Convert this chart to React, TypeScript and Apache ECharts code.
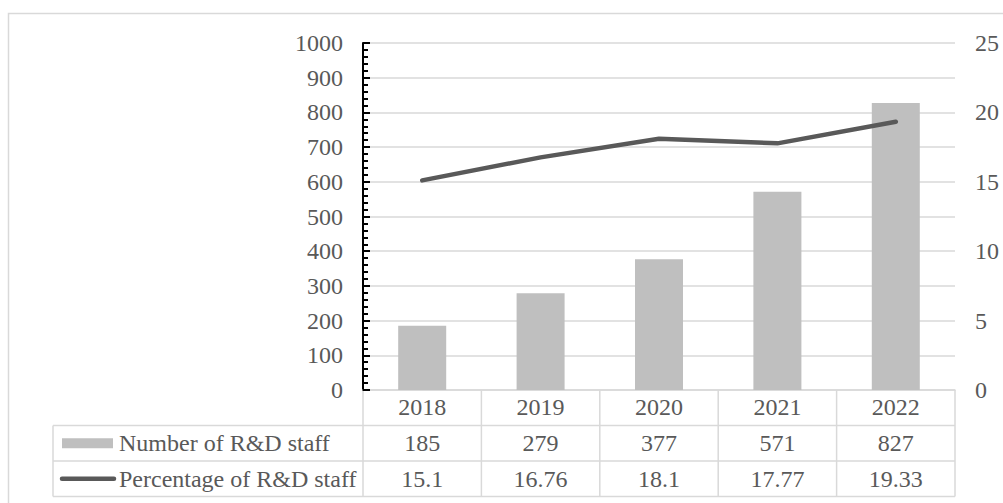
import React, { useEffect, useRef } from "react";
import * as echarts from "echarts";

const categories = ["2018", "2019", "2020", "2021", "2022"];
const staffCount = [185, 279, 377, 571, 827];
const staffPct = [15.1, 16.76, 18.1, 17.77, 19.33];
const seriesNames = ["Number of R&D staff", "Percentage of R&D staff"];

const FONT = "Liberation Serif";
const FS = 24;
const TXT = "#595959";
const GRID = "#d9d9d9";

export default function App() {
  const ref = useRef<HTMLDivElement>(null);
  useEffect(() => {
    const chart = echarts.init(ref.current!, null, { renderer: "svg" });
    const option: any = {
      animation: false,
      backgroundColor: "#ffffff",
      textStyle: { fontFamily: FONT },
      grid: { left: 363, right: 48, top: 43, bottom: 113, containLabel: false },
      xAxis: {
        type: "category",
        data: categories,
        boundaryGap: true,
        axisLine: { show: true, lineStyle: { color: GRID, width: 1.5 } },
        axisTick: { show: false },
        axisLabel: {
          interval: 0,
          margin: 17,
          verticalAlign: "middle",
          color: TXT,
          fontFamily: FONT,
          fontSize: FS,
        },
        splitLine: { show: false },
      },
      yAxis: [
        {
          type: "value",
          min: 0,
          max: 1000,
          interval: 100,
          position: "left",
          axisLine: { show: true, onZero: false, lineStyle: { color: "#000", width: 2 } },
          axisTick: { show: true, inside: true, length: 7, lineStyle: { color: "#000", width: 2 } },
          minorTick: { show: true, splitNumber: 5, length: 5, lineStyle: { color: "#000", width: 2 } },
          axisLabel: {
            margin: 20,
            color: TXT,
            fontFamily: FONT,
            fontSize: FS,
            formatter: (v: number) => String(v),
          },
          splitLine: { show: true, lineStyle: { color: GRID, width: 1.5 } },
        },
        {
          type: "value",
          min: 0,
          max: 25,
          interval: 5,
          position: "right",
          axisLine: { show: false },
          axisTick: { show: false },
          axisLabel: {
            margin: 20,
            color: TXT,
            fontFamily: FONT,
            fontSize: FS,
            formatter: (v: number) => String(v),
          },
          splitLine: { show: false },
        },
      ],
      series: [
        {
          name: seriesNames[0],
          type: "bar",
          data: staffCount,
          barWidth: 48,
          itemStyle: { color: "#bfbfbf" },
          yAxisIndex: 0,
          z: 2,
        },
        {
          name: seriesNames[1],
          type: "line",
          data: staffPct,
          yAxisIndex: 1,
          symbol: "none",
          lineStyle: { color: "#595959", width: 4.5, cap: "round", join: "round" },
          z: 3,
        },
      ],
    };
    chart.setOption(option);

    const xs = categories.map((_, i) => chart.convertToPixel({ xAxisIndex: 0 }, i) as number);
    const band = xs[1] - xs[0];
    const left = xs[0] - band / 2;
    const right = xs[xs.length - 1] + band / 2;
    const y0 = chart.convertToPixel({ yAxisIndex: 0 }, 0) as number;
    const rowH = 35.5;
    const tableLeft = 53;
    const lineStyle = { stroke: GRID, lineWidth: 1.5 };
    const g: any[] = [];
    g.push({
      type: "rect",
      shape: { x: 8.5, y: 13.5, width: 1000, height: 500 },
      style: { fill: "none", stroke: GRID, lineWidth: 1.5 },
      z: 0,
      silent: true,
    });
    for (let r = 1; r <= 3; r++) {
      g.push({
        type: "line",
        shape: { x1: tableLeft, y1: y0 + r * rowH, x2: right, y2: y0 + r * rowH },
        style: lineStyle,
        silent: true,
      });
    }
    g.push({
      type: "line",
      shape: { x1: tableLeft, y1: y0 + rowH, x2: tableLeft, y2: y0 + 3 * rowH },
      style: lineStyle,
      silent: true,
    });
    for (let i = 0; i <= categories.length; i++) {
      const x = left + i * band;
      g.push({
        type: "line",
        shape: { x1: x, y1: y0, x2: x, y2: y0 + 3 * rowH },
        style: lineStyle,
        silent: true,
      });
    }
    const textEl = (text: string, x: number, y: number, align: string) => ({
      type: "text",
      style: {
        text,
        x,
        y,
        fill: TXT,
        fontFamily: FONT,
        fontSize: FS,
        align,
        verticalAlign: "middle",
      },
      silent: true,
    });
    categories.forEach((_, i) => {
      g.push(textEl(String(staffCount[i]), xs[i], y0 + 1.5 * rowH, "center"));
      g.push(textEl(String(staffPct[i]), xs[i], y0 + 2.5 * rowH, "center"));
    });
    g.push({
      type: "rect",
      shape: { x: 62, y: y0 + 1.5 * rowH - 5, width: 51, height: 10 },
      style: { fill: "#bfbfbf" },
      silent: true,
    });
    g.push({
      type: "line",
      shape: { x1: 62, y1: y0 + 2.5 * rowH, x2: 114, y2: y0 + 2.5 * rowH },
      style: { stroke: "#595959", lineWidth: 4.5, lineCap: "round" },
      silent: true,
    });
    g.push(textEl(seriesNames[0], 119, y0 + 1.5 * rowH, "left"));
    g.push(textEl(seriesNames[1], 119, y0 + 2.5 * rowH, "left"));
    chart.setOption({ graphic: g });

    return () => chart.dispose();
  }, []);
  return (
    <div
      ref={ref}
      style={{ position: "absolute", left: 0, top: 0, width: 1003, height: 503 }}
    />
  );
}
